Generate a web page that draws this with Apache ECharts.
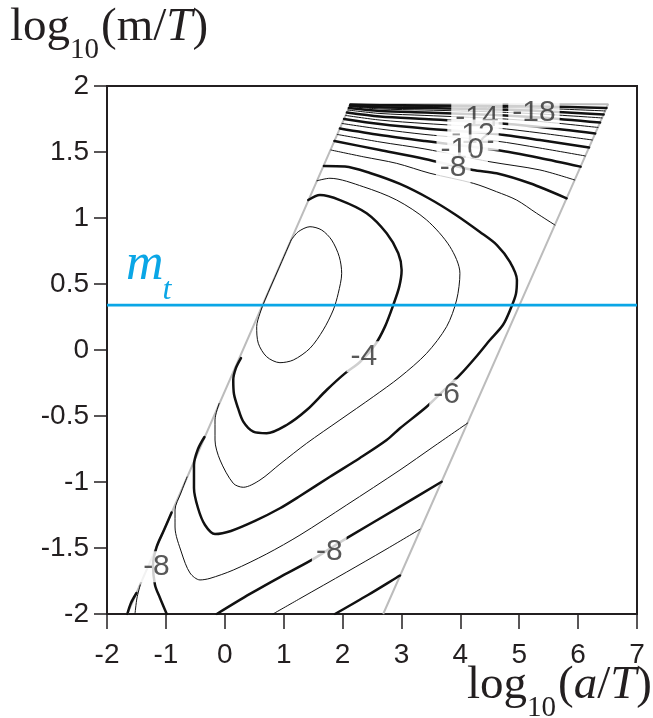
<!DOCTYPE html>
<html>
<head>
<meta charset="utf-8">
<script src="https://cdn.jsdelivr.net/npm/echarts@6/dist/echarts.min.js"></script>
<style>
  html, body { margin: 0; padding: 0; background: #fff; }
  #chart { width: 653px; height: 718px; }
</style>
</head>
<body>
<div id="chart"></div>
<script>
// Axis ticks
const xTicks = [-2, -1, 0, 1, 2, 3, 4, 5, 6, 7];
const yTicks = [-2, -1.5, -1, -0.5, 0, 0.5, 1, 1.5, 2];

// Horizontal reference level m_t
const mtLevel = 0.34;

// Outline of the region where the quantity is defined
const domainEdge = [[-1.656, -2], [2.136, 1.862], [6.51, 1.862], [2.69, -2]];

// Contour lines, one array per piece: [log10(a/T), log10(m/T)]
const cMinus3 = [[1.127,0.833],[1.248,0.896],[1.447,0.934],[1.645,0.909],[1.815,0.833],[1.944,0.707],[1.985,0.581],[1.927,0.430],[1.842,0.303],[1.672,0.152],[1.447,0.013],[1.163,-0.076],[0.937,-0.096],[0.711,-0.051],[0.569,0.051],[0.542,0.177],[0.598,0.278],[0.683,0.379],[0.905,0.606],[1.127,0.833]];
const cMinus4 = [[1.418,1.136],[1.616,1.174],[1.956,1.136],[2.409,1.036],[2.749,0.884],[2.946,0.733],[3.003,0.606],[2.963,0.480],[2.861,0.341],[2.720,0.177],[2.550,0.038],[2.295,-0.091],[2.041,-0.177],[1.730,-0.303],[1.391,-0.455],[1.051,-0.568],[0.711,-0.631],[0.484,-0.619],[0.314,-0.543],[0.224,-0.439],[0.156,-0.333],[0.144,-0.227],[0.190,-0.136],[0.275,-0.061]];
const cMinus5 = [[1.566,1.282],[1.786,1.301],[2.351,1.237],[2.919,1.136],[3.428,0.985],[3.823,0.783],[3.993,0.581],[3.937,0.379],[3.767,0.177],[3.428,-0.025],[2.975,-0.205],[2.521,-0.354],[1.956,-0.530],[1.390,-0.707],[0.937,-0.864],[0.598,-0.985],[0.314,-1.040],[0.144,-1.010],[-0.081,-0.833],[-0.166,-0.682],[-0.166,-0.530],[-0.095,-0.404]];
const cMinus6 = [[1.684,1.394],[2.041,1.390],[2.465,1.341],[2.975,1.258],[3.484,1.144],[3.925,1.023],[4.333,0.894],[4.621,0.795],[4.842,0.667],[4.961,0.530],[4.944,0.424],[4.859,0.318],[4.723,0.189],[4.503,0.076],[4.265,-0.053],[3.993,-0.189],[3.705,-0.311],[3.428,-0.430],[2.975,-0.593],[2.749,-0.682],[2.295,-0.818],[1.786,-0.960],[1.277,-1.106],[0.937,-1.199],[0.513,-1.295],[0.105,-1.371],[-0.166,-1.394],[-0.336,-1.326],[-0.455,-1.197],[-0.523,-1.045],[-0.523,-0.871],[-0.455,-0.750],[-0.345,-0.659]];
const cMinus7Upper = [[1.803,1.515],[2.351,1.464],[2.919,1.414],[3.484,1.339],[4.219,1.263],[4.616,1.199],[4.956,1.136],[5.295,1.036],[5.606,0.947]];
const cMinus7Lower = [[-0.640,-0.962],[-0.745,-1.083],[-0.845,-1.212],[-0.845,-1.341],[-0.732,-1.538],[-0.591,-1.689],[-0.421,-1.742],[-0.251,-1.730],[0.144,-1.667],[0.711,-1.545],[1.277,-1.402],[2.070,-1.174],[2.975,-0.909],[3.535,-0.735],[4.125,-0.553]];
const cMinus8Upper = [[1.862,1.583],[2.635,1.515],[3.399,1.447],[4.214,1.364],[4.616,1.339],[5.182,1.263],[5.805,1.149]];
const cMinus8Lower = [[-0.136,-2],[0.428,-1.848],[0.937,-1.720],[1.447,-1.598],[2.092,-1.420],[2.975,-1.186],[3.683,-0.998]];
const cMinus8Corner = [[-0.903,-1.231],[-1.032,-1.364],[-1.157,-1.492],[-1.219,-1.629],[-1.185,-1.780],[-1.100,-1.879],[-0.986,-2]];
const cMinus9Upper = [[1.911,1.633],[2.635,1.576],[3.399,1.523],[4.503,1.426],[5.351,1.364],[5.942,1.288]];
const cMinus9Lower = [[0.818,-2],[1.277,-1.883],[2.070,-1.682],[2.720,-1.515],[3.314,-1.358]];
const cMinus9Corner = [[-1.435,-1.780],[-1.491,-1.879],[-1.525,-2]];
const cMinus10Upper = [[1.955,1.678],[2.635,1.629],[3.399,1.583],[4.604,1.515],[5.351,1.455],[6.042,1.389]];
const cMinus10Lower = [[1.871,-2],[2.431,-1.856],[2.975,-1.708]];
const cMinus10Corner = [[-1.499,-1.841],[-1.593,-1.917],[-1.655,-2]];
const cMinus11Upper = [[1.992,1.716],[2.635,1.674],[3.399,1.633],[4.604,1.583],[5.351,1.530],[6.122,1.470]];
const cMinus12Upper = [[2.026,1.750],[2.635,1.712],[3.399,1.678],[4.604,1.636],[5.351,1.591],[6.186,1.534]];
const cMinus13Upper = [[2.052,1.777],[2.635,1.742],[3.399,1.716],[4.604,1.682],[5.351,1.644],[6.242,1.591]];
const cMinus14Upper = [[2.074,1.799],[2.635,1.769],[3.399,1.750],[4.604,1.720],[5.351,1.689],[6.290,1.640]];
const cMinus15Upper = [[2.093,1.818],[2.635,1.792],[3.399,1.777],[4.604,1.754],[5.351,1.731],[6.336,1.686]];
const cMinus16Upper = [[2.107,1.833],[2.635,1.811],[3.399,1.799],[4.604,1.780],[5.351,1.761],[6.373,1.723]];
const cMinus17Upper = [[2.119,1.845],[2.635,1.826],[3.399,1.818],[4.604,1.803],[5.351,1.788],[6.407,1.758]];
const cMinus18Upper = [[2.126,1.852],[2.635,1.839],[3.399,1.833],[4.604,1.822],[5.351,1.811],[6.433,1.784]];
const cMinus19Upper = [[2.130,1.856],[2.635,1.848],[3.399,1.845],[4.604,1.837],[5.351,1.831],[6.460,1.811]];
const cMinus20Upper = [[2.133,1.859],[2.635,1.855],[3.399,1.853],[4.604,1.848],[5.351,1.845],[6.481,1.833]];

// Contour level carried by each piece
const contourPieces = [
  [-3, cMinus3], [-4, cMinus4], [-5, cMinus5], [-6, cMinus6],
  [-7, cMinus7Upper], [-7, cMinus7Lower],
  [-8, cMinus8Upper], [-8, cMinus8Lower], [-8, cMinus8Corner],
  [-9, cMinus9Upper], [-9, cMinus9Lower], [-9, cMinus9Corner],
  [-10, cMinus10Upper], [-10, cMinus10Lower], [-10, cMinus10Corner],
  [-11, cMinus11Upper], [-12, cMinus12Upper], [-13, cMinus13Upper],
  [-14, cMinus14Upper], [-15, cMinus15Upper], [-16, cMinus16Upper],
  [-17, cMinus17Upper], [-18, cMinus18Upper], [-19, cMinus19Upper],
  [-20, cMinus20Upper]
];

// Inline contour labels: level and anchor point (later ones sit on top)
const labelLevels = [-14, -12, -10, -8, -18, -4, -6, -8, -8];
const labelPoints = [[4.282,1.760],[4.215,1.629],[4.032,1.515],[3.879,1.379],[5.250,1.801],[2.363,-0.051],[3.767,-0.341],[1.774,-1.528],[-1.160,-1.642]];

const INK = '#231f20';
const SERIF = '"Liberation Serif", "Times New Roman", serif';
const SANS = '"Liberation Sans", Arial, Helvetica, sans-serif';

const chart = echarts.init(document.getElementById('chart'), null, { renderer: 'canvas' });

// text runs for the axis titles (with subscripts / italics)
const measureCtx = document.createElement('canvas').getContext('2d');
function fontOf(p, family) {
  return (p.italic ? 'italic ' : '') + p.size + 'px ' + family;
}
function textRun(parts, startX, baseline, alignRight, color, family) {
  const widths = parts.map(p => {
    measureCtx.font = fontOf(p, family);
    return measureCtx.measureText(p.t).width + (p.gap || 0);
  });
  const total = widths.reduce((a, b) => a + b, 0);
  let x = alignRight ? startX - total : startX;
  const els = [];
  parts.forEach((p, i) => {
    els.push({
      type: 'text',
      x: x,
      y: baseline + (p.dy || 0) - 0.33 * p.size,
      silent: true,
      z: 100,
      style: {
        text: p.t,
        font: fontOf(p, family),
        fill: color,
        align: 'left',
        verticalAlign: 'middle'
      }
    });
    x += widths[i];
  });
  return els;
}

const yTitle = textRun([
  { t: 'log', size: 47 },
  { t: '10', size: 29, dy: 17, gap: 2 },
  { t: '(m/', size: 47 },
  { t: 'T', size: 47, italic: true },
  { t: ')', size: 47 }
], 10, 43, false, INK, SERIF);

const xTitle = textRun([
  { t: 'log', size: 47 },
  { t: '10', size: 29, dy: 17, gap: 2 },
  { t: '(', size: 47 },
  { t: 'a', size: 47, italic: true },
  { t: '/', size: 47 },
  { t: 'T', size: 47, italic: true },
  { t: ')', size: 47 }
], 652, 701, true, INK, SERIF);

const mtTitle = textRun([
  { t: 'm', size: 52, italic: true, gap: -1 },
  { t: 't', size: 32, italic: true, dy: 19 }
], 126, 282, false, '#0aa6e6', SERIF);

const series = [];

series.push({
  type: 'line',
  data: domainEdge,
  showSymbol: false,
  silent: true,
  z: 2,
  lineStyle: { color: '#bcbcbc', width: 2 }
});

contourPieces.forEach(([lvl, pts]) => {
  series.push({
    type: 'line',
    data: pts,
    showSymbol: false,
    smooth: 0.3,
    silent: true,
    z: 3,
    lineStyle: { color: '#111', width: lvl % 2 === 0 ? 2.5 : 1, cap: 'round', join: 'round' }
  });
});

series.push({
  type: 'line',
  data: [[xTicks[0], mtLevel], [xTicks[xTicks.length - 1], mtLevel]],
  showSymbol: false,
  silent: true,
  z: 4,
  lineStyle: { color: '#0aa6e6', width: 2.6 }
});

labelLevels.forEach((lvl, i) => {
  series.push({
    type: 'scatter',
    data: [labelPoints[i]],
    symbolSize: 1,
    silent: true,
    z: 10 + i,
    itemStyle: { color: 'rgba(0,0,0,0)' },
    label: {
      show: true,
      position: 'inside',
      formatter: String(lvl),
      fontSize: 30,
      fontFamily: SANS,
      color: '#2e2e2e',
      backgroundColor: '#fff',
      padding: [2, 4, 0, 4],
      lineHeight: 29
    }
  });
});

chart.setOption({
  animation: false,
  backgroundColor: '#fff',
  grid: {
    left: 107, top: 86, right: 16, bottom: 104,
    show: true, borderColor: INK, borderWidth: 2, backgroundColor: 'transparent'
  },
  xAxis: {
    type: 'value',
    min: xTicks[0], max: xTicks[xTicks.length - 1], interval: xTicks[1] - xTicks[0],
    axisLine: { show: true, onZero: false, lineStyle: { color: INK, width: 2 } },
    axisTick: { show: true, inside: false, length: 15, lineStyle: { color: INK, width: 1.5 } },
    axisLabel: {
      margin: 27, fontSize: 28, color: INK, fontFamily: SANS,
      showMinLabel: true, showMaxLabel: true,
      formatter: v => (xTicks.indexOf(v) >= 0 ? String(v) : '')
    },
    splitLine: { show: false }
  },
  yAxis: {
    type: 'value',
    min: yTicks[0], max: yTicks[yTicks.length - 1], interval: yTicks[1] - yTicks[0],
    axisLine: { show: true, onZero: false, lineStyle: { color: INK, width: 2 } },
    axisTick: { show: true, inside: false, length: 13, lineStyle: { color: INK, width: 1.5 } },
    axisLabel: {
      margin: 18, fontSize: 28, color: INK, fontFamily: SANS,
      showMinLabel: true, showMaxLabel: true,
      formatter: v => (yTicks.indexOf(v) >= 0 ? String(v) : '')
    },
    splitLine: { show: false }
  },
  graphic: { elements: [].concat(yTitle, xTitle, mtTitle) },
  series: series
});
</script>
</body>
</html>
